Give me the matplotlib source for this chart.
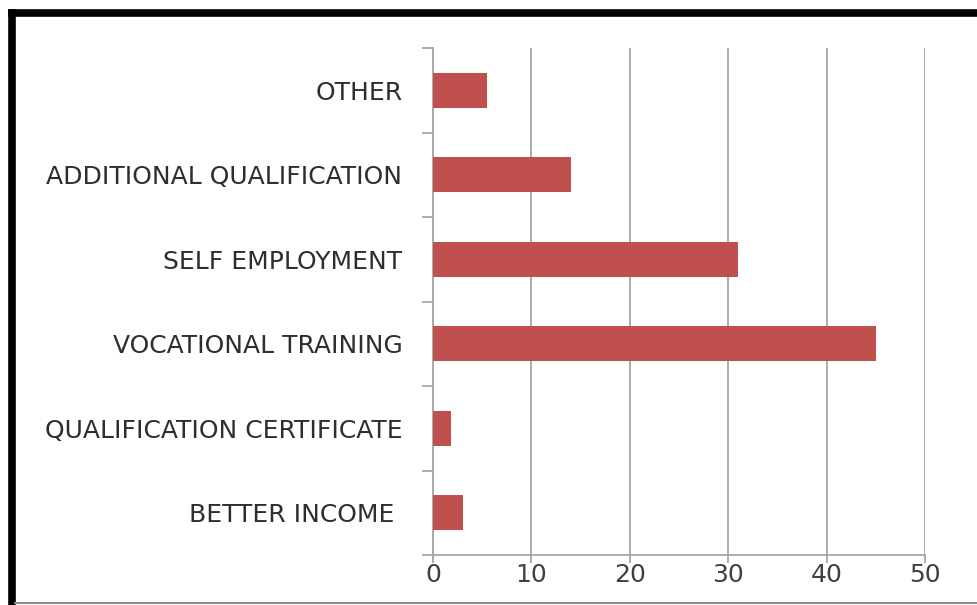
import matplotlib
matplotlib.use("Agg")
import matplotlib.pyplot as plt
from matplotlib.lines import Line2D

# reasons, listed bottom to top as they appear on the chart
reasons = ["BETTER INCOME ", "QUALIFICATION CERTIFICATE", "VOCATIONAL TRAINING",
           "SELF EMPLOYMENT", "ADDITIONAL QUALIFICATION", "OTHER"]
counts = [3, 1.8, 45, 31, 14, 5.5]
x_ticks = [0, 10, 20, 30, 40, 50]

plt.rcParams['font.family'] = ['DejaVu Sans']

W, H = 977, 605
fig = plt.figure(figsize=(W / 100, H / 100), dpi=100)
ax = fig.add_axes([433 / W, 1 - 555 / H, (925 - 433) / W, (555 - 48) / H])

pos = list(range(len(reasons)))
ax.barh(pos, counts, height=0.42, color='#C0504D', zorder=3)

ax.set_xlim(0, 50)
ax.set_ylim(-0.5, len(reasons) - 0.5)
ax.set_xticks(x_ticks)
ax.set_xticklabels([str(t) for t in x_ticks])
ax.set_yticks(pos)
ax.set_yticklabels(reasons)
ax.set_yticks([p - 0.5 for p in pos] + [len(reasons) - 0.5], minor=True)

ax.grid(axis='x', color='#A6A6A6', linewidth=1.3, zorder=0)
for side in ['top', 'right']:
    ax.spines[side].set_visible(False)
for side in ['left', 'bottom']:
    ax.spines[side].set_color('#A6A6A6')
    ax.spines[side].set_linewidth(1.3)

ax.tick_params(axis='y', which='major', length=0, pad=22, labelsize=18,
               labelcolor='#2e2e2e')
ax.tick_params(axis='y', which='minor', length=8, width=1.3, color='#A6A6A6')
ax.tick_params(axis='x', length=6, width=1.3, color='#A6A6A6', pad=0,
               labelsize=18, labelcolor='#404040')

# frame around the chart
fig.add_artist(Line2D([11.5 / W, 11.5 / W], [0, 1 - 13 / H], color='black',
                      linewidth=5.5, solid_capstyle='projecting'))
fig.add_artist(Line2D([11.5 / W, 1], [1 - 13 / H, 1 - 13 / H], color='black',
                      linewidth=5.5, solid_capstyle='projecting'))
fig.add_artist(Line2D([15 / W, 1], [1 - 603 / H, 1 - 603 / H], color='#8C8C8C',
                      linewidth=1.5))

fig.savefig('out.png', dpi=100)
